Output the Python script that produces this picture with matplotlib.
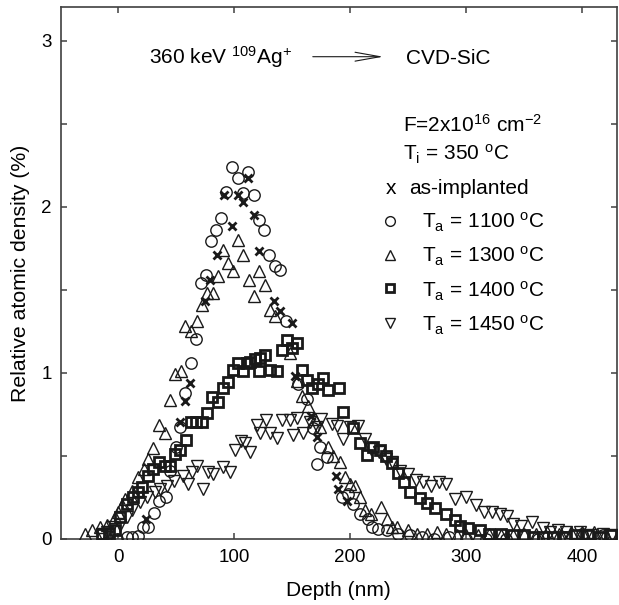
import matplotlib
matplotlib.use("Agg")
import matplotlib.pyplot as plt
from matplotlib.patches import FancyArrowPatch, ArrowStyle
from matplotlib.ticker import MultipleLocator, FuncFormatter

plt.rcParams['font.family'] = ['Liberation Sans', 'DejaVu Sans']
plt.rcParams['mathtext.fontset'] = 'custom'
plt.rcParams['mathtext.rm'] = 'Liberation Sans'
plt.rcParams['mathtext.it'] = 'Liberation Sans:italic'
plt.rcParams['mathtext.bf'] = 'Liberation Sans:bold'

# ---------------- data ----------------
asimp_depth = [24, 53, 57.5, 62, 75, 79.5, 85, 91, 98.5, 103, 107.5, 112, 117, 121,
               134.7, 139.7, 149.7, 152.6, 166, 171.8, 187.4, 189.4, 197]
asimp_val = [0.12, 0.70, 0.83, 0.935, 1.43, 1.56, 1.71, 2.07, 1.885, 2.07, 2.03, 2.17, 1.95, 1.73,
             1.43, 1.37, 1.30, 0.98, 0.74, 0.615, 0.38, 0.30, 0.23]

t1100_depth = [-1, 7.5, 11.8, 16.7, 21.3, 26.1, 30.5, 35.3, 41, 44.8, 49.5, 53.5, 58, 62.5, 67,
               71, 75.6, 80, 84, 89, 93.4, 98.5, 103, 107.6, 112, 117, 121.3, 126, 130.4, 134.8,
               139.5, 145, 155.4, 162.7, 167.8, 171.3, 174, 180, 192.8, 198.5, 202.8, 208.6,
               215.8, 218.7, 224.4, 231.6, 241.6, 251.7, 262, 272, 285, 300, 317, 334, 362,
               385, 400, 418]
t1100_val = [0.0, 0.012, 0.012, 0.018, 0.069, 0.069, 0.157, 0.227, 0.25, 0.41, 0.55, 0.67, 0.88,
             1.06, 1.2, 1.54, 1.59, 1.79, 1.86, 1.93, 2.09, 2.24, 2.17, 2.08, 2.21, 2.07, 1.92,
             1.86, 1.71, 1.64, 1.62, 1.31, 0.93, 0.84, 0.665, 0.45, 0.555, 0.49, 0.25, 0.27,
             0.21, 0.15, 0.12, 0.07, 0.06, 0.05, 0.03, 0.02, 0.01, 0.0, 0.01, 0.0, 0.0, 0.0,
             0.0, 0.01, 0.03, 0.02]

t1300_depth = [-28.4, -22.7, -15.5, -9.8, -2.6, 0.3, 3.2, 6, 11.8, 17.5, 22, 26, 30.4, 34.8,
               40.5, 44.8, 49, 54, 57.8, 63, 67.8, 72.5, 76.4, 81.6, 85.9, 90.2, 94.5, 99.4,
               103.7, 108, 113, 117.5, 121.6, 126.7, 131, 135.3, 148, 154, 158.4, 164, 170,
               174, 181, 185, 191, 195.7, 200, 204, 208.6, 213, 218, 227, 231.6, 236, 240,
               250, 258, 266, 275, 283, 292, 300, 310, 320, 330, 340, 350, 360, 370, 380,
               390, 400, 410, 420]
t1300_val = [0.03, 0.05, 0.07, 0.08, 0.13, 0.16, 0.20, 0.24, 0.29, 0.37, 0.42, 0.48, 0.545,
             0.685, 0.635, 0.835, 0.99, 1.01, 1.28, 1.25, 1.31, 1.41, 1.48, 1.48, 1.58, 1.74,
             1.66, 1.61, 1.80, 1.71, 1.56, 1.46, 1.61, 1.53, 1.38, 1.34, 1.12, 0.95, 0.86,
             0.80, 0.72, 0.675, 0.555, 0.50, 0.46, 0.37, 0.33, 0.32, 0.25, 0.17, 0.15, 0.19,
             0.12, 0.07, 0.07, 0.05, 0.03, 0.03, 0.04, 0.03, 0.02, 0.02, 0.02, 0.03, 0.02,
             0.02, 0.03, 0.03, 0.04, 0.03, 0.04, 0.04, 0.04, 0.03]

t1400_depth = [-14, -8, -3, 1.7, 7.5, 13.2, 17, 20.4, 26, 30, 35.3, 40, 44.8, 49, 53.4, 58.6,
               63, 67.5, 72, 76.5, 80.8, 86.5, 90.2, 95, 99.4, 103.7, 108, 111, 113.8, 118,
               121, 122.4, 126.7, 131, 136.8, 141, 145.4, 150, 154, 158.4, 162.7, 167, 172,
               177, 181.3, 190, 193.7, 202.8, 208.6, 214.4, 220, 225.9, 231, 236, 241.6, 246,
               251.7, 260, 266, 273, 283, 290, 295, 302, 312, 320, 330, 340, 350, 358, 366,
               375, 385, 395, 405, 415, 425]
t1400_val = [0.03, 0.035, 0.05, 0.13, 0.21, 0.25, 0.28, 0.31, 0.38, 0.42, 0.46, 0.44, 0.44,
             0.51, 0.535, 0.595, 0.705, 0.705, 0.705, 0.755, 0.855, 0.825, 0.905, 0.946, 1.017,
             1.057, 1.007, 1.057, 1.067, 1.08, 1.007, 1.087, 1.107, 1.017, 1.007, 1.137, 1.198,
             1.15, 1.178, 1.017, 0.957, 0.907, 0.93, 0.967, 0.896, 0.907, 0.765, 0.665, 0.575,
             0.505, 0.555, 0.535, 0.50, 0.455, 0.394, 0.343, 0.283, 0.243, 0.213, 0.183, 0.15,
             0.11, 0.077, 0.065, 0.053, 0.03, 0.03, 0.02, 0.02, 0.01, 0.01, 0.01, 0.01, 0.02,
             0.02, 0.01, 0.02]

t1450_depth = [-14, -9.8, -5, 1.7, 7.5, 11.8, 19, 25, 31.9, 36.2, 42, 48, 56.3, 60.6, 63.5,
               67.8, 73.5, 77.8, 82, 90.8, 96.6, 100.9, 106, 109.5, 113.8, 119.6, 122.4, 127.6,
               131, 136.8, 141, 148, 151, 154, 159.7, 165, 171, 175, 184, 188.6, 194, 200, 207,
               213, 218, 224.5, 231, 236, 243, 250, 256.5, 263, 270, 276.6, 283, 290, 300,
               308.6, 315, 322, 329, 335.5, 340.5, 347, 357, 366, 372, 379, 386, 398, 408,
               418, 426]
t1450_val = [0.03, 0.04, 0.07, 0.08, 0.13, 0.17, 0.22, 0.25, 0.28, 0.30, 0.32, 0.35, 0.38,
             0.33, 0.40, 0.44, 0.30, 0.40, 0.39, 0.43, 0.40, 0.535, 0.59, 0.575, 0.525, 0.685,
             0.635, 0.715, 0.635, 0.605, 0.715, 0.715, 0.625, 0.725, 0.635, 0.70, 0.675, 0.72,
             0.69, 0.68, 0.60, 0.67, 0.68, 0.60, 0.54, 0.52, 0.48, 0.46, 0.41, 0.39, 0.355,
             0.34, 0.32, 0.34, 0.33, 0.24, 0.25, 0.20, 0.16, 0.16, 0.15, 0.135, 0.09, 0.077,
             0.10, 0.065, 0.04, 0.05, 0.04, 0.04, 0.02, 0.03, 0.02]

x_ticks = [0, 100, 200, 300, 400]
y_ticks = [0, 1, 2, 3]

# ---------------- figure ----------------
W, H = 619, 605
fig = plt.figure(figsize=(W / 100, H / 100), dpi=100)
L, R, T, B = 60.7, 617, 7.3, 538.7
ax = fig.add_axes([L / W, 1 - B / H, (R - L) / W, (B - T) / H])

ink = '#1a1a1a'
ax.plot(t1100_depth, t1100_val, 'o', ms=8.2, mfc='none', mec=ink, mew=1.0, zorder=3)
ax.plot(t1300_depth, t1300_val, '^', ms=8.8, mfc='none', mec=ink, mew=1.0, zorder=3)
ax.plot(t1400_depth, t1400_val, 's', ms=7.6, mfc='none', mec=ink, mew=2.0, zorder=3)
ax.plot(t1450_depth, t1450_val, 'v', ms=8.8, mfc='none', mec=ink, mew=1.0, zorder=3)
ax.plot(asimp_depth, asimp_val, 'x', ms=5.5, mec=ink, mew=2.0, zorder=4)

ax.set_xlim(-49.5, 430)
ax.set_ylim(0, 3.2)
ax.set_xticks(x_ticks)
ax.yaxis.set_major_locator(MultipleLocator(0.5))
ax.yaxis.set_major_formatter(FuncFormatter(lambda v, p: f"{int(round(v))}" if abs(v - round(v)) < 1e-6 else ""))
ax.tick_params(direction='in', length=4.5, width=1.1, color='#404040',
               top=True, right=True, labelsize=13.5)
ax.tick_params(axis='x', pad=7.5)
ax.tick_params(axis='y', pad=6.5)
for s in ax.spines.values():
    s.set_color('#404040')
    s.set_linewidth(1.2)

ax.set_xlabel('Depth (nm)', fontsize=15)
ax.set_ylabel('Relative atomic density (%)', fontsize=15.3)
ax.xaxis.set_label_coords(0.5, (B - 590) / (B - T), transform=ax.transAxes)
ax.yaxis.set_label_coords((20 - L) / (R - L), 0.5, transform=ax.transAxes)
ax.xaxis.label.set_va('center')
ax.yaxis.label.set_va('center')


def px(x, y):
    return (x / W, 1 - y / H)


fs = 15
fig.text(*px(149, 63.5), r'360 keV $^{109}$Ag$^{+}$', fontsize=fs, va='baseline', ha='left')
fig.text(*px(406, 63.5), 'CVD-SiC', fontsize=fs, va='baseline', ha='left')
arrow = FancyArrowPatch(px(310, 56.7), px(386, 56.7), transform=fig.transFigure,
                        arrowstyle=ArrowStyle('->', head_length=18, head_width=3.2),
                        mutation_scale=1, lw=0.8, color=ink)
fig.patches.append(arrow)

fig.text(*px(403, 131.7), r'F=2x10$^{16}$ cm$^{-2}$', fontsize=fs, va='baseline')
fig.text(*px(403, 160), r'T$_{\mathrm{i}}$ = 350 $^{\mathrm{o}}$C', fontsize=fs, va='baseline')
fig.text(*px(386, 194), 'x', fontsize=fs, va='baseline')
fig.text(*px(409, 194), 'as-implanted', fontsize=fs, va='baseline')

leg_rows = [('o', 220.7, 228, '1100', 1.0, 7.0),
            ('^', 255, 262, '1300', 1.0, 7.2),
            ('s', 288, 297, '1400', 2.0, 6.2),
            ('v', 323, 331, '1450', 1.0, 7.2)]
for mk, ym, yb, temp, mw, ms in leg_rows:
    fx, fy = px(390, ym)
    fig.add_artist(plt.Line2D([fx], [fy], marker=mk, ms=ms, mfc='none', mec=ink, mew=mw,
                              linestyle='none', transform=fig.transFigure))
    fig.text(*px(422, yb), r'T$_{\mathrm{a}}$ = ' + temp + r' $^{\mathrm{o}}$C',
             fontsize=fs, va='baseline')

fig.savefig('out.png', dpi=100)
